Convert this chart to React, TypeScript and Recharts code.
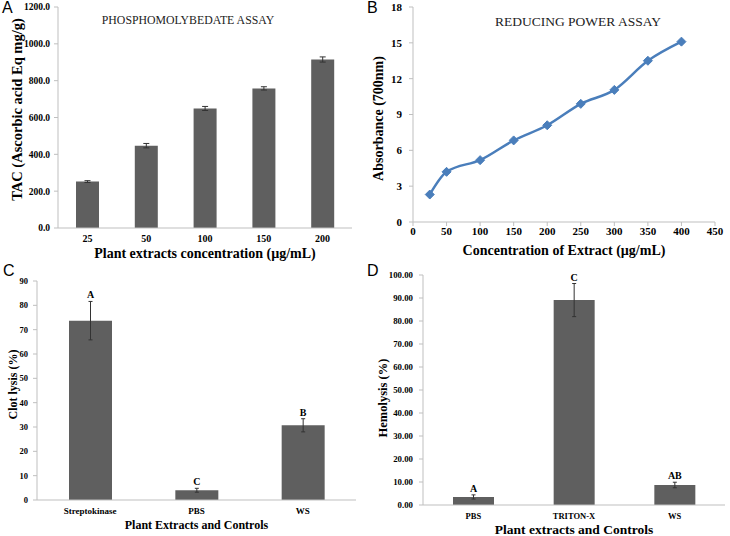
import React from 'react';
import {
  BarChart,
  Bar,
  LineChart,
  Line,
  XAxis,
  YAxis,
  ErrorBar,
  LabelList,
  Label,
} from 'recharts';

// Panel A - phosphomolybdate assay
const tacDoses = ['25', '50', '100', '150', '200'];
const tacValues = [252, 447, 649, 758, 915];
const tacErrors = [5, 12, 11, 9, 14];
const tacTicks = [0, 200, 400, 600, 800, 1000, 1200];

// Panel B - reducing power assay
const rpConc = [25, 50, 100, 150, 200, 250, 300, 350, 400];
const rpAbs = [2.3, 4.2, 5.18, 6.83, 8.1, 9.89, 11.06, 13.5, 15.1];
const rpXTicks = [0, 50, 100, 150, 200, 250, 300, 350, 400, 450];
const rpYTicks = [0, 3, 6, 9, 12, 15, 18];

// Panel C - clot lysis
const clotGroups = ['Streptokinase', 'PBS', 'WS'];
const clotValues = [73.7, 4.0, 30.7];
const clotErrors = [7.9, 0.8, 2.7];
const clotLetters = ['A', 'C', 'B'];
const clotTicks = [0, 10, 20, 30, 40, 50, 60, 70, 80, 90];

// Panel D - hemolysis
const hemoGroups = ['PBS', 'TRITON-X', 'WS'];
const hemoValues = [3.5, 89.1, 8.7];
const hemoErrors = [0.9, 7.2, 1.2];
const hemoLetters = ['A', 'C', 'AB'];
const hemoTicks = [0, 10, 20, 30, 40, 50, 60, 70, 80, 90, 100];

const SERIF = '"Liberation Serif", "Times New Roman", serif';
const SANS = '"Liberation Sans", Arial, sans-serif';
const AXIS = '#bfbfbf';
const BAR = '#5f5f5f';
const LINE = '#4a7ebb';

const tick = (size: number) => ({
  fontSize: size,
  fontWeight: 'bold',
  fill: '#000',
  fontFamily: SERIF,
});

// rotated y title, placed from the axis viewBox
const yTitle = (text: string, dx: number, size: number, shift = 0) => (props: any) => {
  const vb = props.viewBox || {};
  const cx = (vb.x || 0) + dx;
  const cy = (vb.y || 0) + (vb.height || 0) / 2 + shift;
  return (
    <text
      x={cx}
      y={cy}
      transform={`rotate(-90, ${cx}, ${cy})`}
      textAnchor="middle"
      fontFamily={SERIF}
      fontWeight="bold"
      fontSize={size}
      fill="#000"
    >
      {text}
    </text>
  );
};

const xTitle = (text: string, dy: number, size: number) => (props: any) => {
  const vb = props.viewBox || {};
  return (
    <text
      x={(vb.x || 0) + (vb.width || 0) / 2}
      y={(vb.y || 0) + dy}
      textAnchor="middle"
      fontFamily={SERIF}
      fontWeight="bold"
      fontSize={size}
      fill="#000"
    >
      {text}
    </text>
  );
};

// significance letter drawn just above the error bar
const letterLabel = (values: number[], errors: number[], size: number) => (props: any) => {
  const vb = props.viewBox || props;
  const i = props.index;
  const pxPerUnit = vb.height / values[i];
  const top = vb.y - errors[i] * pxPerUnit;
  return (
    <text
      x={vb.x + vb.width / 2}
      y={top - 3}
      textAnchor="middle"
      fontFamily={SERIF}
      fontWeight="bold"
      fontSize={size}
      fill="#000"
    >
      {props.value}
    </text>
  );
};

const Diamond = (props: any) => {
  const { cx, cy, index } = props;
  const r = 4.5;
  return (
    <path
      key={`d-${index}`}
      d={`M${cx},${cy - r}L${cx + r},${cy}L${cx},${cy + r}L${cx - r},${cy}Z`}
      fill={LINE}
      stroke={LINE}
    />
  );
};

const tacData = tacDoses.map((d, i) => ({ dose: d, value: tacValues[i], err: tacErrors[i] }));
const rpData = rpConc.map((c, i) => ({ conc: c, abs: rpAbs[i] }));
const clotData = clotGroups.map((g, i) => ({
  group: g,
  value: clotValues[i],
  err: clotErrors[i],
  letter: clotLetters[i],
}));
const hemoData = hemoGroups.map((g, i) => ({
  group: g,
  value: hemoValues[i],
  err: hemoErrors[i],
  letter: hemoLetters[i],
}));

const panelLetter = (text: string, left: number, top: number) => (
  <div
    style={{
      position: 'absolute',
      left,
      top,
      fontFamily: SANS,
      fontSize: 16,
      lineHeight: '16px',
      color: '#000',
    }}
  >
    {text}
  </div>
);

export default function App() {
  return (
    <div
      style={{
        position: 'absolute',
        left: 0,
        top: 0,
        width: 730,
        height: 536,
        background: '#fff',
        overflow: 'hidden',
      }}
    >
      {/* A */}
      <div style={{ position: 'absolute', left: 0, top: 0 }}>
        <BarChart width={365} height={268} data={tacData} margin={{ top: 7, right: 13, bottom: 0, left: 0 }}>
          <XAxis
            dataKey="dose"
            height={40}
            axisLine={{ stroke: AXIS }}
            tickLine={false}
            tickSize={4}
            tickMargin={2.5}
            tick={tick(10)}
          >
            <Label content={xTitle('Plant extracts concentration (µg/mL)', 30, 14)} />
          </XAxis>
          <YAxis
            width={58}
            domain={[0, 1200]}
            ticks={tacTicks}
            tickFormatter={(v: number) => v.toFixed(1)}
            axisLine={{ stroke: AXIS }}
            tickLine={{ stroke: AXIS }}
            tickSize={4}
            tickMargin={4}
            tick={tick(9.5)}
          >
            <Label content={yTitle('TAC (Ascorbic acid Eq mg/g)', 21.5, 14.5, -8)} />
          </YAxis>
          <Bar dataKey="value" fill={BAR} barSize={23} isAnimationActive={false}>
            <ErrorBar dataKey="err" width={3} stroke="#333" strokeWidth={1} />
          </Bar>
          <text x={188} y={24} textAnchor="middle" fontFamily={SERIF} fontSize={11.8} fill="#222">
            PHOSPHOMOLYBEDATE ASSAY
          </text>
        </BarChart>
      </div>

      {/* B */}
      <div style={{ position: 'absolute', left: 365, top: 0 }}>
        <LineChart width={365} height={268} data={rpData} margin={{ top: 7, right: 15, bottom: 0, left: 0 }}>
          <XAxis
            dataKey="conc"
            type="number"
            domain={[0, 450]}
            ticks={rpXTicks}
            height={46}
            axisLine={{ stroke: AXIS }}
            tickLine={{ stroke: AXIS }}
            tickSize={4}
            tickMargin={1}
            tick={tick(11)}
          >
            <Label content={xTitle('Concentration of Extract (µg/mL)', 33, 14)} />
          </XAxis>
          <YAxis
            width={48}
            domain={[0, 18]}
            ticks={rpYTicks}
            axisLine={{ stroke: AXIS }}
            tickLine={{ stroke: AXIS }}
            tickSize={4}
            tickMargin={7}
            tick={tick(11)}
          >
            <Label content={yTitle('Absorbance (700nm)', 17.5, 14, 4)} />
          </YAxis>
          <Line
            dataKey="abs"
            type="monotone"
            stroke={LINE}
            strokeWidth={2.5}
            dot={Diamond}
            activeDot={false}
            isAnimationActive={false}
          />
          <text x={213} y={26} textAnchor="middle" fontFamily={SERIF} fontSize={13.5} fill="#222">
            REDUCING POWER ASSAY
          </text>
        </LineChart>
      </div>

      {/* C */}
      <div style={{ position: 'absolute', left: 0, top: 268 }}>
        <BarChart width={365} height={268} data={clotData} margin={{ top: 13, right: 9, bottom: 0, left: 0 }}>
          <XAxis
            dataKey="group"
            height={36}
            axisLine={{ stroke: AXIS }}
            tickLine={false}
            tickSize={4}
            tickMargin={3.5}
            tick={tick(9)}
          >
            <Label content={xTitle('Plant Extracts and Controls', 29, 12)} />
          </XAxis>
          <YAxis
            width={37}
            domain={[0, 90]}
            ticks={clotTicks}
            axisLine={{ stroke: AXIS }}
            tickLine={{ stroke: AXIS }}
            tickSize={4}
            tickMargin={5}
            tick={tick(8.5)}
          >
            <Label content={yTitle('Clot lysis (%)', 17, 12, -6)} />
          </YAxis>
          <Bar dataKey="value" fill={BAR} barSize={43} isAnimationActive={false}>
            <ErrorBar dataKey="err" width={2} stroke="#333" strokeWidth={1} />
            <LabelList dataKey="letter" content={letterLabel(clotValues, clotErrors, 10)} />
          </Bar>
        </BarChart>
      </div>

      {/* D */}
      <div style={{ position: 'absolute', left: 365, top: 268 }}>
        <BarChart width={365} height={268} data={hemoData} margin={{ top: 7, right: 5, bottom: 0, left: 0 }}>
          <XAxis
            dataKey="group"
            height={31}
            axisLine={{ stroke: AXIS }}
            tickLine={false}
            tickSize={4}
            tickMargin={4}
            tick={tick(8.5)}
          >
            <Label content={xTitle('Plant extracts and Controls', 29, 13.5)} />
          </XAxis>
          <YAxis
            width={58}
            domain={[0, 100]}
            ticks={hemoTicks}
            tickFormatter={(v: number) => v.toFixed(2)}
            axisLine={{ stroke: AXIS }}
            tickLine={{ stroke: AXIS }}
            tickSize={4}
            tickMargin={6}
            tick={tick(8.8)}
          >
            <Label content={yTitle('Hemolysis (%)', 21.5, 12.5, 8)} />
          </YAxis>
          <Bar dataKey="value" fill={BAR} barSize={41} isAnimationActive={false}>
            <ErrorBar dataKey="err" width={2} stroke="#333" strokeWidth={1} />
            <LabelList dataKey="letter" content={letterLabel(hemoValues, hemoErrors, 10)} />
          </Bar>
        </BarChart>
      </div>

      {panelLetter('A', 2, 0)}
      {panelLetter('B', 367, 0)}
      {panelLetter('C', 3, 263)}
      {panelLetter('D', 367, 263)}
    </div>
  );
}
